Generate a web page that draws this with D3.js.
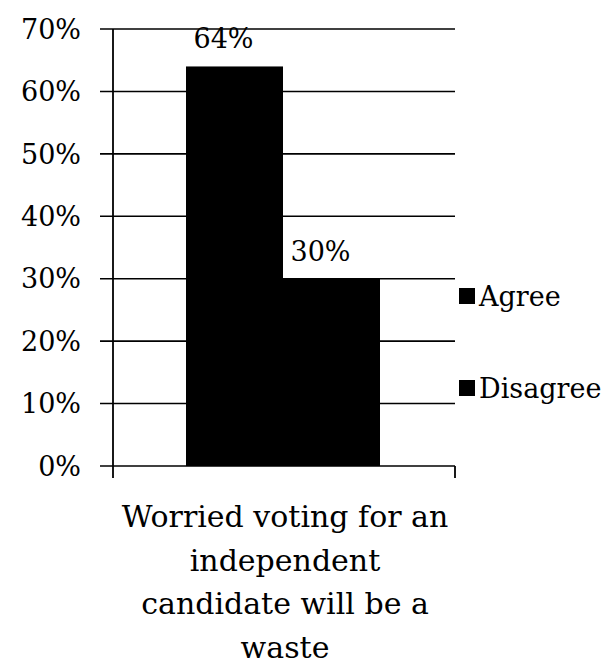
<!DOCTYPE html>
<html>
<head>
<meta charset="utf-8">
<script src="https://cdn.jsdelivr.net/npm/d3@7"></script>
<style>
  html, body { margin: 0; padding: 0; background: #fff; }
  svg { display: block; }
  text { font-family: "DejaVu Serif", "Liberation Serif", serif; fill: #000; }
</style>
</head>
<body>
<svg id="chart" width="609" height="671"></svg>
<script>
// Survey responses for a single question
const categoryLines = ["Worried voting for an", "independent", "candidate will be a", "waste"];
const seriesNames = ["Agree", "Disagree"];
const seriesValues = [0.64, 0.30];
const seriesColors = ["#000000", "#000000"];
const tickValues = [0, 0.1, 0.2, 0.3, 0.4, 0.5, 0.6, 0.7];

const svg = d3.select("#chart");
const plot = { left: 113, right: 455, top: 29, bottom: 466 };

const y = d3.scaleLinear().domain([0, 0.7]).range([plot.bottom, plot.top]);
const x = d3.scaleBand().domain(seriesNames).range([186, 380]).padding(0);

// Horizontal gridlines with short ticks extending left of the axis
svg.append("g")
  .selectAll("line")
  .data(tickValues)
  .join("line")
  .attr("x1", plot.left - 13)
  .attr("x2", plot.right)
  .attr("y1", d => y(d))
  .attr("y2", d => y(d))
  .attr("stroke", "#000")
  .attr("stroke-width", 1.6);

// Y tick labels
svg.append("g")
  .selectAll("text")
  .data(tickValues)
  .join("text")
  .attr("x", 81)
  .attr("y", d => y(d))
  .attr("dy", "0.36em")
  .attr("text-anchor", "end")
  .attr("font-size", 27)
  .text(d => d3.format(".0%")(d));

// Bars
svg.append("g")
  .selectAll("rect")
  .data(seriesValues)
  .join("rect")
  .attr("x", (d, i) => x(seriesNames[i]))
  .attr("y", d => y(d))
  .attr("width", x.bandwidth())
  .attr("height", d => y(0) - y(d))
  .attr("fill", (d, i) => seriesColors[i]);

// Value labels above bars
svg.append("g")
  .selectAll("text")
  .data(seriesValues)
  .join("text")
  .attr("x", (d, i) => x(seriesNames[i]) + x.bandwidth() / 2 - 11)
  .attr("y", d => y(d) - 18)
  .attr("text-anchor", "middle")
  .attr("font-size", 27)
  .text(d => d3.format(".0%")(d));

// Vertical axis and bottom tick marks
svg.append("line")
  .attr("x1", plot.left).attr("x2", plot.left)
  .attr("y1", plot.top).attr("y2", plot.bottom + 12)
  .attr("stroke", "#000").attr("stroke-width", 1.8);
svg.append("line")
  .attr("x1", plot.right).attr("x2", plot.right)
  .attr("y1", plot.bottom).attr("y2", plot.bottom + 12)
  .attr("stroke", "#000").attr("stroke-width", 1.8);

// Category label
svg.append("g")
  .selectAll("text")
  .data(categoryLines)
  .join("text")
  .attr("x", (plot.left + plot.right) / 2 + 1)
  .attr("y", (d, i) => 527 + i * 43.7)
  .attr("text-anchor", "middle")
  .attr("font-size", 30)
  .text(d => d);

// Legend
const legend = svg.append("g")
  .selectAll("g")
  .data(seriesNames)
  .join("g")
  .attr("transform", (d, i) => `translate(459, ${296 + i * 92})`);
legend.append("rect")
  .attr("x", 0).attr("y", -8)
  .attr("width", 16).attr("height", 16)
  .attr("fill", (d, i) => seriesColors[i]);
legend.append("text")
  .attr("x", 20).attr("y", 0)
  .attr("dy", "0.36em")
  .attr("font-size", 27)
  .text(d => d);
</script>
</body>
</html>
